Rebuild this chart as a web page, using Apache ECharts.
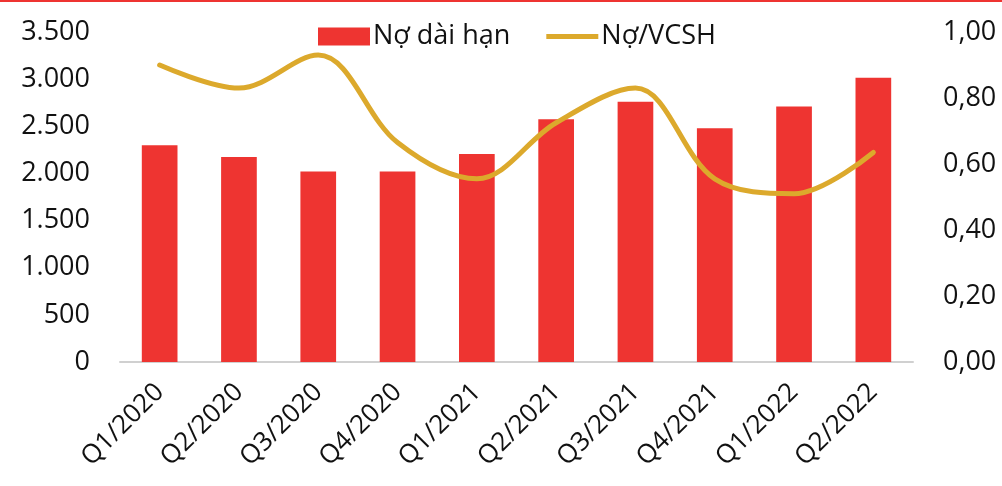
<!DOCTYPE html>
<html>
<head>
<meta charset="utf-8">
<script src="https://cdn.jsdelivr.net/npm/echarts@6/dist/echarts.min.js"></script>
<style>
	html, body { margin: 0; padding: 0; background: #fff; }
	#main { width: 1002px; height: 486px; }
</style>
</head>
<body>
<div id="main"></div>
<script>
const categories = ['Q1/2020', 'Q2/2020', 'Q3/2020', 'Q4/2020', 'Q1/2021', 'Q2/2021', 'Q3/2021', 'Q4/2021', 'Q1/2022', 'Q2/2022']
const debtLong = [2300, 2175, 2020, 2020, 2205, 2575, 2760, 2480, 2710, 3015]
const debtEquity = [0.90, 0.83, 0.93, 0.665, 0.555, 0.725, 0.83, 0.555, 0.51, 0.635]

const font = '"Open Sans", sans-serif'

const chart = echarts.init(document.getElementById('main'))
chart.setOption({
	animation: false,
	textStyle: { fontFamily: font },
	graphic: [
		{ type: 'rect', shape: { x: 0, y: 0, width: 1002, height: 2 }, style: { fill: '#EE3431' } }
	],
	legend: {
		top: 18,
		left: 313,
		itemWidth: 52,
		itemHeight: 18,
		itemGap: 36,
		textStyle: { fontSize: 27, color: '#111', fontFamily: font, padding: [0, 0, 0, -2] },
		data: [
			{ name: 'Nợ dài hạn', icon: 'rect' },
			{ name: 'Nợ/VCSH', icon: 'path://M0,0 L60,0 L60,6 L0,6 Z' }
		]
	},
	grid: {
		left: 120,
		right: 89,
		top: 32,
		bottom: 124
	},
	xAxis: {
		type: 'category',
		data: categories,
		axisLine: { lineStyle: { color: '#d0d0d0', width: 2 } },
		axisTick: { show: false },
		axisLabel: {
			rotate: 45,
			interval: 0,
			margin: 26,
			fontSize: 26,
			color: '#111',
			fontFamily: font
		}
	},
	yAxis: [
		{
			type: 'value',
			min: 0,
			max: 3500,
			interval: 500,
			splitLine: { show: false },
			axisLine: { show: false },
			axisTick: { show: false },
			axisLabel: {
				margin: 30,
				fontSize: 27,
				color: '#111',
				fontFamily: font,
				formatter: v => v.toString().replace(/\B(?=(\d{3})+(?!\d))/g, '.')
			}
		},
		{
			type: 'value',
			min: 0,
			max: 1,
			interval: 0.2,
			splitLine: { show: false },
			axisLine: { show: false },
			axisTick: { show: false },
			axisLabel: {
				margin: 30,
				fontSize: 27,
				color: '#111',
				fontFamily: font,
				formatter: v => v.toFixed(2).replace('.', ',')
			}
		}
	],
	series: [
		{
			name: 'Nợ dài hạn',
			type: 'bar',
			data: debtLong,
			barWidth: '45%',
			itemStyle: { color: '#EE3431' }
		},
		{
			name: 'Nợ/VCSH',
			type: 'line',
			yAxisIndex: 1,
			data: debtEquity,
			smooth: 0.35,
			symbol: 'none',
			lineStyle: { color: '#DCA92C', width: 5, cap: 'round' },
			itemStyle: { color: '#DCA92C' }
		}
	]
})
</script>
</body>
</html>
